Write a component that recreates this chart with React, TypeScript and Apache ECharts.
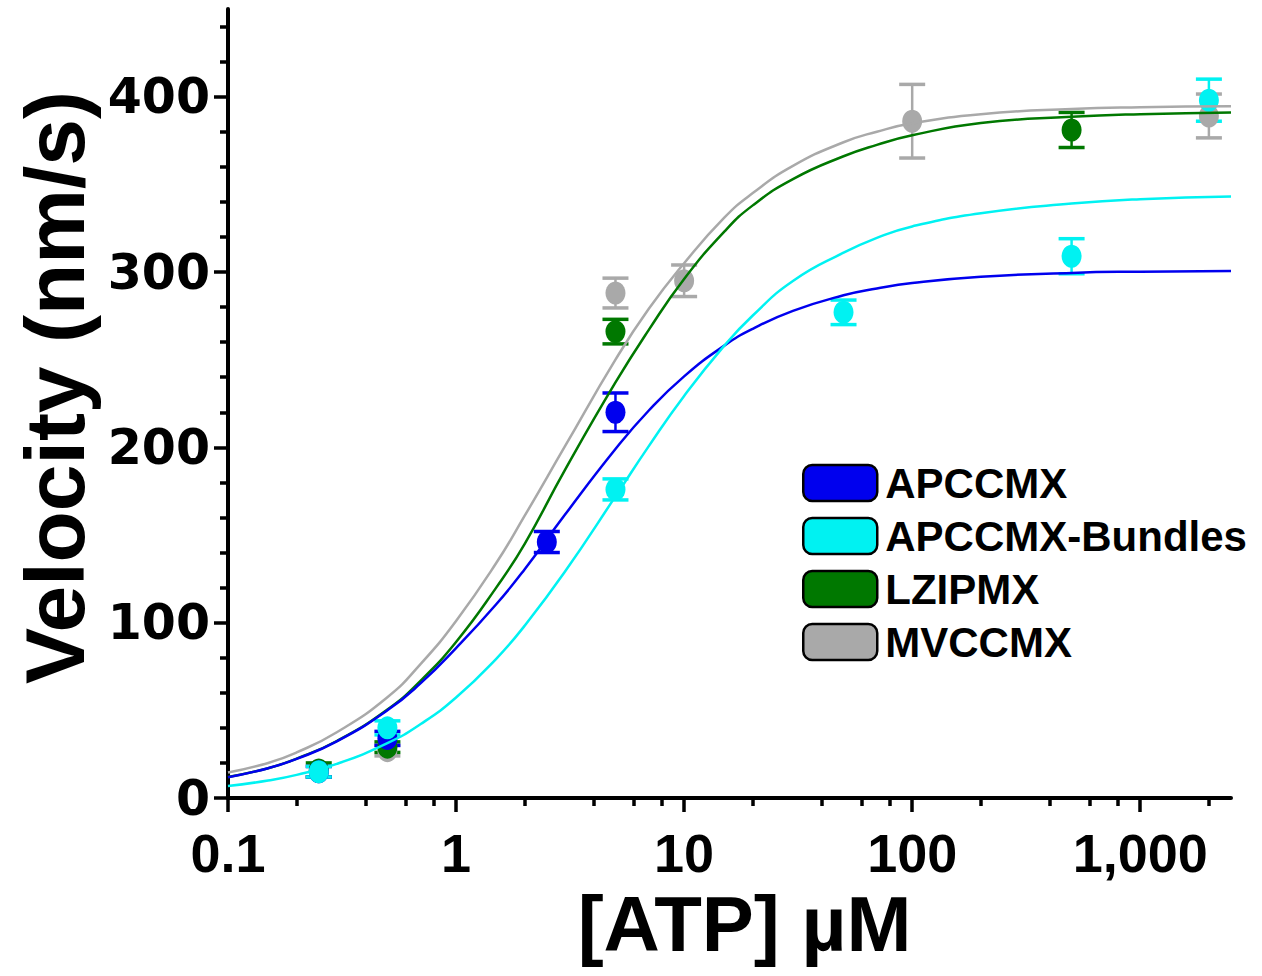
import React, { useEffect, useRef } from "react";
import * as echarts from "echarts";

// ---- data ----
const seriesNames = ["APCCMX", "APCCMX-Bundles", "LZIPMX", "MVCCMX"];
const seriesColors = ["#0000ee", "#00f2f2", "#007800", "#a9a9a9"];

// fitted-curve samples (x in µM, y in nm/s)
const curveX = [0.1, 0.15, 0.2, 0.3, 0.5, 0.7, 1, 1.5, 2, 3, 5, 7, 10, 15, 20, 30, 50, 70, 100, 200, 500, 1000, 2500];
const apccmxCurve = [11.8, 17, 22.3, 32.3, 50, 65.5, 85.5, 110.5, 130.5, 161.5, 199, 221, 240.5, 258, 267.6, 277.8, 286.7, 290.6, 293.7, 297.3, 299.5, 300.2, 300.6];
const bundlesCurve = [6.8, 10, 13.2, 19.5, 31.3, 42.2, 57.3, 79.4, 98.3, 129, 172, 200.7, 229.3, 258, 275.2, 294.9, 311, 319.5, 326, 333.5, 339, 341.5, 343];
const lzipmxCurve = [12, 17, 22.5, 32.5, 50.5, 67, 89, 120, 145, 187, 237, 267, 296, 323, 338, 353, 366, 372.5, 378, 385, 388.5, 390, 391];
const mvccmxCurve = [14.5, 20, 26, 37.5, 57.5, 76.5, 101, 134, 161, 200.5, 250, 279, 305, 331, 345, 360.5, 374, 380, 384.8, 390, 393, 394, 394.5];

// measured points: x, mean, error
const apccmxX = [0.25, 0.5, 2.5, 5];
const apccmxY = [15, 34, 146, 220];
const apccmxErr = [3, 4, 6, 11];

const bundlesX = [0.25, 0.5, 5, 50, 500, 2000];
const bundlesY = [15, 40, 176, 277, 309, 398];
const bundlesErr = [3, 4, 6, 7, 10, 12];

const lzipmxX = [0.25, 0.5, 5, 500];
const lzipmxY = [16, 29, 266, 381];
const lzipmxErr = [4, 3, 7, 10];

const mvccmxX = [0.25, 0.5, 5, 10, 100, 2000];
const mvccmxY = [15, 27, 288, 295, 386, 389];
const mvccmxErr = [3, 3, 8.5, 9, 21, 12.5];

// axis ticks
const xMajorTicks = [0.1, 1, 10, 100, 1000];
const xTickLabels = ["0.1", "1", "10", "100", "1,000"];
const xMinorTicks = [0.2, 0.4, 0.6, 0.8, 2, 4, 6, 8, 20, 40, 60, 80, 200, 400, 600, 800, 2000];
const yMajorTicks = [0, 100, 200, 300, 400];
const yMinorTicks = [20, 40, 60, 80, 120, 140, 160, 180, 220, 240, 260, 280, 320, 340, 360, 380, 420, 440];

const curves = [apccmxCurve, bundlesCurve, lzipmxCurve, mvccmxCurve];
const pointsX = [apccmxX, bundlesX, lzipmxX, mvccmxX];
const pointsY = [apccmxY, bundlesY, lzipmxY, mvccmxY];
const pointsErr = [apccmxErr, bundlesErr, lzipmxErr, mvccmxErr];

const xLabel = (v: number) => {
  for (let i = 0; i < xMajorTicks.length; i++) {
    if (Math.abs(Math.log10(v) - Math.log10(xMajorTicks[i])) < 1e-6) return xTickLabels[i];
  }
  return "";
};

export default function App() {
  const ref = useRef<HTMLDivElement>(null);
  useEffect(() => {
    if (!ref.current) return;
    const chart = echarts.init(ref.current, null, { renderer: "svg" });

    const drawOrder = [3, 2, 0, 1];
    const errSeries: any[] = [];
    const ptSeries: any[] = [];
    const lineSeries: any[] = [];
    drawOrder.forEach((i) => {
      const color = seriesColors[i];
      errSeries.push({
        type: "custom",
        name: seriesNames[i],
        z: 2,
        itemStyle: { color },
        data: pointsX[i].map((x, k) => [x, pointsY[i][k] - pointsErr[i][k], pointsY[i][k] + pointsErr[i][k]]),
        encode: { x: 0, y: [1, 2] },
        renderItem: (params: any, api: any) => {
          const x = api.value(0);
          const top = api.coord([x, api.value(2)]);
          const bot = api.coord([x, api.value(1)]);
          const hw = 13;
          const style = { stroke: color, lineWidth: 3.5 };
          return {
            type: "group",
            children: [
              { type: "line", shape: { x1: top[0], y1: top[1], x2: bot[0], y2: bot[1] }, style: { stroke: color, lineWidth: 2.5 } },
              { type: "line", shape: { x1: top[0] - hw, y1: top[1], x2: top[0] + hw, y2: top[1] }, style },
              { type: "line", shape: { x1: bot[0] - hw, y1: bot[1], x2: bot[0] + hw, y2: bot[1] }, style },
            ],
          };
        },
      });
      ptSeries.push({
        type: "scatter",
        name: seriesNames[i],
        z: 3,
        symbol: "circle",
        symbolSize: [20, 23],
        itemStyle: { color, opacity: 1 },
        data: pointsX[i].map((x, k) => [x, pointsY[i][k]]),
      });
      lineSeries.push({
        type: "line",
        name: seriesNames[i],
        z: 4,
        showSymbol: false,
        symbol: "none",
        smooth: 0.5,
        itemStyle: { color },
        lineStyle: { color, width: 2.5 },
        data: curveX.map((x, k) => [x, curves[i][k]]),
      });
    });

    const axisFont = "'Liberation Sans', Arial, sans-serif";
    const option: any = {
      animation: false,
      backgroundColor: "#ffffff",
      grid: { left: 228, right: 31, top: 9, bottom: 178 },
      legend: {
        orient: "vertical",
        left: 797,
        top: 457,
        itemWidth: 74,
        itemHeight: 36,
        itemGap: 11,
        icon: "roundRect",
        selectedMode: false,
        itemStyle: { borderColor: "#000", borderWidth: 2.5 },
        textStyle: { fontSize: 42, fontWeight: "bold", fontFamily: axisFont, color: "#000", lineHeight: 40, padding: [0, 0, 0, 3] },
        data: seriesNames.map((n, i) => ({ name: n, itemStyle: { color: seriesColors[i], borderColor: "#000", borderWidth: 2.5 } })),
      },
      xAxis: [
        {
          type: "log",
          logBase: 10,
          min: 0.1,
          max: 2500,
          position: "bottom",
          axisLine: { show: true, onZero: false, lineStyle: { color: "#000", width: 4 } },
          axisTick: { show: true, customValues: xMajorTicks, length: 14, lineStyle: { color: "#000", width: 3.5 } },
          axisLabel: {
            customValues: xMajorTicks,
            formatter: (v: number) => xLabel(v),
            fontSize: 54,
            fontWeight: "bold",
            fontFamily: axisFont,
            color: "#000",
            margin: 28,
          },
          splitLine: { show: false },
          name: "[ATP] µM",
          nameLocation: "middle",
          nameGap: 60,
          nameTextStyle: { fontSize: 78, fontWeight: "bold", fontFamily: axisFont, color: "#000", padding: [0, 0, 0, 30] },
        },
        {
          type: "log",
          logBase: 10,
          min: 0.1,
          max: 2500,
          position: "bottom",
          axisLine: { show: false },
          axisTick: { show: true, customValues: xMinorTicks, length: 8, lineStyle: { color: "#000", width: 3.5 } },
          axisLabel: { show: false },
          splitLine: { show: false },
        },
      ],
      yAxis: [
        {
          type: "value",
          min: 0,
          max: 450,
          position: "left",
          axisLine: { show: true, onZero: false, lineStyle: { color: "#000", width: 4 } },
          axisTick: { show: true, customValues: yMajorTicks, length: 14, lineStyle: { color: "#000", width: 3.5 } },
          axisLabel: {
            customValues: yMajorTicks,
            fontSize: 49,
            fontWeight: "bold",
            fontFamily: "'DejaVu Sans', sans-serif",
            color: "#000",
            margin: 18,
          },
          splitLine: { show: false },
          name: "Velocity (nm/s)",
          nameLocation: "middle",
          nameGap: 125,
          nameRotate: 90,
          nameTextStyle: { fontSize: 84, fontWeight: "bold", fontFamily: axisFont, color: "#000", padding: [0, 0, 0, 32] },
        },
        {
          type: "value",
          min: 0,
          max: 450,
          position: "left",
          axisLine: { show: false },
          axisTick: { show: true, customValues: yMinorTicks, length: 8, lineStyle: { color: "#000", width: 3.5 } },
          axisLabel: { show: false },
          splitLine: { show: false },
        },
      ],
      series: [...errSeries, ...ptSeries, ...lineSeries],
    };
    chart.setOption(option);
    return () => chart.dispose();
  }, []);

  return <div ref={ref} style={{ position: "fixed", left: 0, top: 0, width: 1262, height: 976, background: "#fff" }} />;
}
